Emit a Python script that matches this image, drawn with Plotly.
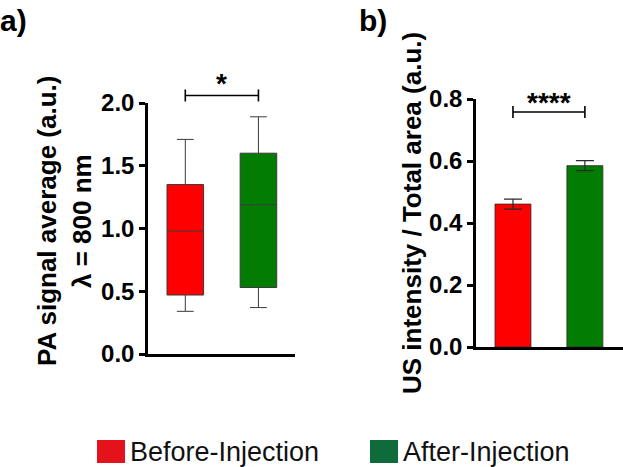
import plotly.graph_objects as go

groups = ["Before-Injection", "After-Injection"]
fill_colors = ["#FF0000", "#027D02"]
legend_colors = ["#E3121B", "#0E6B3A"]

# panel a) box plot summary stats (PA signal average)
box_q1 = [0.47, 0.53]
box_median = [0.98, 1.19]
box_q3 = [1.35, 1.60]
box_low = [0.34, 0.37]
box_high = [1.71, 1.89]
a_ticks = [0.0, 0.5, 1.0, 1.5, 2.0]
a_sig = "*"

# panel b) bar chart (US intensity / total area)
bar_mean = [0.461, 0.585]
bar_err = [0.016, 0.016]
b_ticks = [0.0, 0.2, 0.4, 0.6, 0.8]
b_sig = "****"

W, H = 623, 467
font_b = "Liberation Sans"

# axis domains in paper coords
ax_a = dict(x=[148 / W, 295 / W], y=[(H - 354) / H, (H - 103) / H], r=[0, 2.0])
ax_b = dict(x=[476 / W, 1.0], y=[(H - 347) / H, (H - 99) / H], r=[0, 0.8])
xr_a = [-0.51, 1.5]
xr_b = [-0.514, 1.53]


def to_paper(ax, xr, xv, yv):
    px = ax["x"][0] + (xv - xr[0]) / (xr[1] - xr[0]) * (ax["x"][1] - ax["x"][0])
    py = ax["y"][0] + (yv - ax["r"][0]) / (ax["r"][1] - ax["r"][0]) * (ax["y"][1] - ax["y"][0])
    return px, py


fig = go.Figure()

for i, g in enumerate(groups):
    fig.add_trace(go.Box(
        x=[i], q1=[box_q1[i]], median=[box_median[i]], q3=[box_q3[i]],
        lowerfence=[box_low[i]], upperfence=[box_high[i]],
        fillcolor=fill_colors[i], line=dict(color="#3a3a3a", width=1),
        width=0.5, whiskerwidth=0.46, boxpoints=False, name=g,
        showlegend=False, xaxis="x", yaxis="y",
    ))

for i, g in enumerate(groups):
    fig.add_trace(go.Bar(
        x=[i], y=[bar_mean[i]], width=0.5, name=g,
        marker=dict(color=fill_colors[i], line=dict(color="#2a2a2a", width=0.8)),
        error_y=dict(type="data", array=[bar_err[i]], color="#2a2a2a", thickness=1.2, width=9),
        showlegend=False, xaxis="x2", yaxis="y2",
    ))

yax_common = dict(showline=True, linecolor="black", linewidth=2.5, ticks="outside",
                  ticklen=6, tickwidth=2.5, tickcolor="black", showgrid=False, zeroline=False,
                  automargin=False,
                  tickfont=dict(family=font_b, size=24, color="black", weight="bold"))
xax_common = dict(showline=True, linecolor="black", linewidth=2.5, showticklabels=False,
                  ticks="", showgrid=False, zeroline=False, automargin=False)

fig.update_layout(
    template="none",
    width=W, height=H,
    margin=dict(l=0, r=0, t=0, b=0, pad=0),
    paper_bgcolor="white", plot_bgcolor="white",
    showlegend=False,
    xaxis=dict(domain=ax_a["x"], range=xr_a, anchor="y", **xax_common),
    yaxis=dict(domain=ax_a["y"], range=ax_a["r"], anchor="x", tickvals=a_ticks,
               tickformat=".1f", **yax_common),
    xaxis2=dict(domain=ax_b["x"], range=xr_b, anchor="y2", **xax_common),
    yaxis2=dict(domain=ax_b["y"], range=ax_b["r"], anchor="x2", tickvals=b_ticks,
                tickformat=".1f", **yax_common),
)


# significance brackets
def bracket(ax, xr, yval, label, lift):
    x0, yb = to_paper(ax, xr, 0, yval)
    x1, _ = to_paper(ax, xr, 1, yval)
    cap = 6 / H
    line = dict(color="black", width=1.6)
    fig.add_shape(type="line", xref="paper", yref="paper", x0=x0, x1=x1, y0=yb, y1=yb, line=line)
    fig.add_shape(type="line", xref="paper", yref="paper", x0=x0, x1=x0, y0=yb - cap, y1=yb + cap, line=line)
    fig.add_shape(type="line", xref="paper", yref="paper", x0=x1, x1=x1, y0=yb - cap, y1=yb + cap, line=line)
    fig.add_annotation(x=(x0 + x1) / 2, y=yb + lift / H, xref="paper", yref="paper",
                       text=label, showarrow=False, xanchor="center", yanchor="middle",
                       font=dict(family=font_b, size=28, color="black", weight="bold"))


bracket(ax_a, xr_a, 2.06, a_sig, 12)
bracket(ax_b, xr_b, 0.758, b_sig, 10)

title_font = dict(family=font_b, size=26, color="black", weight="bold")
titles = [("PA signal average (a.u.)", 47, 221),
          ("λ = 800 nm", 82, 221),
          ("US intensity / Total area (a.u.)", 412, 213)]
for txt, tx, ty in titles:
    fig.add_annotation(x=tx / W, y=1 - ty / H, xref="paper", yref="paper", text=txt,
                       textangle=-90, showarrow=False, xanchor="center", yanchor="middle",
                       font=title_font)

# panel labels
label_font = dict(family=font_b, size=30, color="black", weight="bold")
fig.add_annotation(x=-2 / W, y=1 - 2 / H, xref="paper", yref="paper", text="a)", showarrow=False,
                   xanchor="left", yanchor="top", font=label_font)
fig.add_annotation(x=357 / W, y=1 - 2 / H, xref="paper", yref="paper", text="b)", showarrow=False,
                   xanchor="left", yanchor="top", font=label_font)

# legend drawn as swatches + text
leg_x = [97, 370]
for i, g in enumerate(groups):
    fig.add_shape(type="rect", xref="paper", yref="paper",
                  x0=leg_x[i] / W, x1=(leg_x[i] + 28) / W, y0=1 - 463 / H, y1=1 - 440 / H,
                  fillcolor=legend_colors[i], line=dict(width=0))
    fig.add_annotation(x=(leg_x[i] + 31) / W, y=1 - 452 / H, xref="paper", yref="paper",
                       text=g, showarrow=False, xanchor="left", yanchor="middle",
                       font=dict(family=font_b, size=27, color="#111111"))

fig.write_html("out.html", config={"displayModeBar": False},
               post_script="document.body.style.margin='0px';")
